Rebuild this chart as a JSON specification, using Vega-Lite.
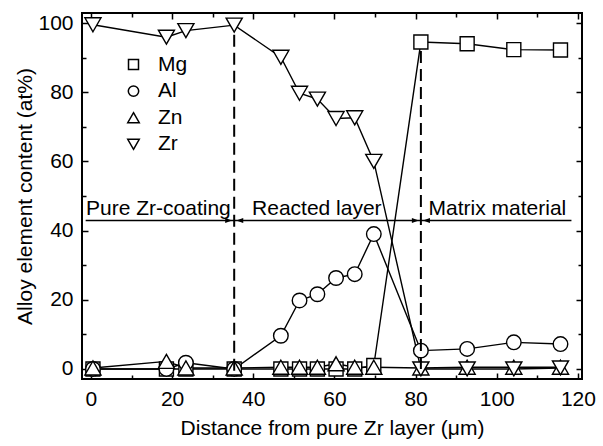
{
  "$schema": "https://vega.github.io/schema/vega-lite/v6.json",
  "width": 500,
  "height": 366,
  "autosize": {"type": "none"},
  "padding": {"left": 82, "top": 13, "right": 21, "bottom": 67},
  "background": "white",
  "config": {
    "font": "Liberation Sans",
    "view": {"stroke": "black", "strokeWidth": 2},
    "axis": {
      "grid": false,
      "domain": false,
      "tickColor": "black",
      "tickWidth": 1.5,
      "labelFont": "Liberation Sans",
      "labelFontSize": 21,
      "labelColor": "black",
      "titleFont": "Liberation Sans",
      "titleFontSize": 21,
      "titleFontWeight": "normal",
      "titleColor": "black"
    }
  },
  "datasets": {
    "profile": [
      {"element": "Mg", "x": 0.5, "y": 0},
      {"element": "Mg", "x": 18.6, "y": 0},
      {"element": "Mg", "x": 23.4, "y": 0},
      {"element": "Mg", "x": 35.3, "y": 0},
      {"element": "Mg", "x": 46.8, "y": 0},
      {"element": "Mg", "x": 51.4, "y": 0},
      {"element": "Mg", "x": 55.8, "y": 0},
      {"element": "Mg", "x": 60.4, "y": 0},
      {"element": "Mg", "x": 65.0, "y": 0},
      {"element": "Mg", "x": 69.7, "y": 1.0},
      {"element": "Mg", "x": 81.3, "y": 94.5},
      {"element": "Mg", "x": 92.7, "y": 94.0},
      {"element": "Mg", "x": 104.2, "y": 92.3},
      {"element": "Mg", "x": 115.7, "y": 92.2},
      {"element": "Al", "x": 0.5, "y": 0},
      {"element": "Al", "x": 18.6, "y": 0},
      {"element": "Al", "x": 23.4, "y": 1.8},
      {"element": "Al", "x": 35.3, "y": 0},
      {"element": "Al", "x": 46.8, "y": 9.6},
      {"element": "Al", "x": 51.4, "y": 19.8},
      {"element": "Al", "x": 55.8, "y": 21.6},
      {"element": "Al", "x": 60.4, "y": 26.3},
      {"element": "Al", "x": 65.0, "y": 27.4},
      {"element": "Al", "x": 69.7, "y": 39.0},
      {"element": "Al", "x": 81.3, "y": 5.3},
      {"element": "Al", "x": 92.7, "y": 5.8},
      {"element": "Al", "x": 104.2, "y": 7.7},
      {"element": "Al", "x": 115.7, "y": 7.2},
      {"element": "Zn", "x": 0.5, "y": 0.3},
      {"element": "Zn", "x": 18.6, "y": 2.2},
      {"element": "Zn", "x": 23.4, "y": 0.3},
      {"element": "Zn", "x": 35.3, "y": 0.3},
      {"element": "Zn", "x": 46.8, "y": 0.5},
      {"element": "Zn", "x": 51.4, "y": 0.5},
      {"element": "Zn", "x": 55.8, "y": 0.5},
      {"element": "Zn", "x": 60.4, "y": 1.5},
      {"element": "Zn", "x": 65.0, "y": 0.5},
      {"element": "Zn", "x": 69.7, "y": 0.5},
      {"element": "Zn", "x": 81.3, "y": 0.3},
      {"element": "Zn", "x": 92.7, "y": 0.5},
      {"element": "Zn", "x": 104.2, "y": 0.5},
      {"element": "Zn", "x": 115.7, "y": 0.5},
      {"element": "Zr", "x": 0.5, "y": 99.5},
      {"element": "Zr", "x": 18.6, "y": 95.9},
      {"element": "Zr", "x": 23.4, "y": 97.8},
      {"element": "Zr", "x": 35.3, "y": 99.4},
      {"element": "Zr", "x": 46.8, "y": 90.1},
      {"element": "Zr", "x": 51.4, "y": 79.7},
      {"element": "Zr", "x": 55.8, "y": 78.0},
      {"element": "Zr", "x": 60.4, "y": 72.4},
      {"element": "Zr", "x": 65.0, "y": 72.6},
      {"element": "Zr", "x": 69.7, "y": 60.0},
      {"element": "Zr", "x": 81.3, "y": 0},
      {"element": "Zr", "x": 92.7, "y": 0},
      {"element": "Zr", "x": 104.2, "y": 0},
      {"element": "Zr", "x": 115.7, "y": 0.3}
    ],
    "boundaries": [
      {"x": 35.3, "y0": -0.5, "y1": 97.5},
      {"x": 81.3, "y0": 0, "y1": 92.6}
    ],
    "guide": [{"x0": -1.3, "x1": 118.4, "y": 42.9}],
    "arrows": [
      {"x": 34.8, "y": 42.9, "dir": "right"},
      {"x": 35.8, "y": 42.9, "dir": "left"},
      {"x": 80.8, "y": 42.9, "dir": "right"},
      {"x": 81.8, "y": 42.9, "dir": "left"}
    ],
    "regions": [
      {"label": "Pure Zr-coating", "x": -1.2, "y": 44.5},
      {"label": "Reacted layer", "x": 39.7, "y": 44.5},
      {"label": "Matrix material", "x": 83.2, "y": 44.5}
    ]
  },
  "resolve": {"axis": {"x": "independent", "y": "independent"}},
  "layer": [
    {
      "data": {"name": "profile"},
      "mark": {"type": "line", "stroke": "black", "strokeWidth": 1.4},
      "encoding": {
        "x": {"field": "x", "type": "quantitative",
          "scale": {"domain": [-2.2, 121], "nice": false, "zero": false},
          "axis": {"orient": "bottom", "values": [0, 20, 40, 60, 80, 100, 120], "tickSize": -6, "labelPadding": 15, "title": "Distance from pure Zr layer (μm)", "titlePadding": 8}},
        "y": {"field": "y", "type": "quantitative",
          "scale": {"domain": [-2.9, 102.9], "nice": false, "zero": false},
          "axis": {"orient": "left", "values": [0, 20, 40, 60, 80, 100], "tickSize": -6, "labelPadding": 15, "title": "Alloy element content (at%)", "titlePadding": 2}},
        "detail": {"field": "element"}
      }
    },
    {
      "data": {"name": "profile"},
      "mark": {"type": "point", "filled": true, "fill": "white", "stroke": "black", "strokeWidth": 1.4, "size": 196, "opacity": 1},
      "encoding": {
        "x": {"field": "x", "type": "quantitative",
          "scale": {"domain": [-2.2, 121], "nice": false, "zero": false},
          "axis": {"orient": "top", "values": [0, 20, 40, 60, 80, 100, 120], "tickSize": -6, "labels": false, "title": null}},
        "y": {"field": "y", "type": "quantitative",
          "scale": {"domain": [-2.9, 102.9], "nice": false, "zero": false},
          "axis": {"orient": "right", "values": [0, 20, 40, 60, 80, 100], "tickSize": -6, "labels": false, "title": null}},
        "shape": {"field": "element", "type": "nominal",
          "scale": {"domain": ["Mg", "Al", "Zn", "Zr"],
            "range": ["M-1,-1H1V1H-1Z", "M-1.04,0A1.04,1.04,0,1,1,1.04,0A1.04,1.04,0,1,1,-1.04,0Z", "M0,-1L1.15,1L-1.15,1Z", "M0,1L1.15,-1L-1.15,-1Z"]},
          "legend": {
            "title": null,
            "orient": "top-left",
            "offset": 41,
            "labelFontSize": 21,
            "labelColor": "black",
            "labelOffset": 14,
            "rowPadding": 4.6,
            "encode": {
              "symbols": {
                "update": {
                  "shape": {"signal": "datum.value === 'Mg' ? 'M-6.2,0H-2.6M0.2,0H3.8M-2.6,-1.4H0.2V1.4H-2.6Z' : datum.value === 'Al' ? 'M-6.2,0H-2.66M0.26,0H3.8M-2.66,0A1.46,1.46,0,1,1,0.26,0A1.46,1.46,0,1,1,-2.66,0Z' : datum.value === 'Zn' ? 'M-6.2,0H-2.0M-0.4,0H3.8M-1.2,-1.4L0.41,1.4L-2.81,1.4Z' : 'M-6.2,0H-2.0M-0.4,0H3.8M-1.2,1.4L0.41,-1.4L-2.81,-1.4Z'"}
                }
              }
            }
          }
        }
      }
    },
    {
      "data": {"name": "boundaries"},
      "mark": {"type": "rule", "stroke": "black", "strokeWidth": 2, "strokeDash": [12, 6]},
      "encoding": {
        "x": {"field": "x", "type": "quantitative",
          "scale": {"domain": [-2.2, 121], "nice": false, "zero": false},
          "axis": {"orient": "bottom", "values": [10, 30, 50, 70, 90, 110], "tickSize": -4, "labels": false, "title": null}},
        "y": {"field": "y0", "type": "quantitative",
          "scale": {"domain": [-2.9, 102.9], "nice": false, "zero": false},
          "axis": {"orient": "left", "values": [10, 30, 50, 70, 90], "tickSize": -4, "labels": false, "title": null}},
        "y2": {"field": "y1"}
      }
    },
    {
      "data": {"name": "guide"},
      "mark": {"type": "rule", "stroke": "black", "strokeWidth": 1.4},
      "encoding": {
        "x": {"field": "x0", "type": "quantitative",
          "scale": {"domain": [-2.2, 121], "nice": false, "zero": false},
          "axis": {"orient": "top", "values": [10, 30, 50, 70, 90, 110], "tickSize": -4, "labels": false, "title": null}},
        "x2": {"field": "x1"},
        "y": {"field": "y", "type": "quantitative",
          "scale": {"domain": [-2.9, 102.9], "nice": false, "zero": false},
          "axis": {"orient": "right", "values": [10, 30, 50, 70, 90], "tickSize": -4, "labels": false, "title": null}}
      }
    },
    {
      "data": {"name": "arrows"},
      "transform": [{"filter": "datum.dir === 'right'"}],
      "mark": {"type": "point", "shape": "M0,0L-2,-0.7L-2,0.7Z", "filled": true, "color": "black", "size": 49, "opacity": 1},
      "encoding": {
        "x": {"field": "x", "type": "quantitative", "scale": {"domain": [-2.2, 121], "nice": false, "zero": false}, "axis": null},
        "y": {"field": "y", "type": "quantitative", "scale": {"domain": [-2.9, 102.9], "nice": false, "zero": false}, "axis": null}
      }
    },
    {
      "data": {"name": "arrows"},
      "transform": [{"filter": "datum.dir === 'left'"}],
      "mark": {"type": "point", "shape": "M0,0L2,-0.7L2,0.7Z", "filled": true, "color": "black", "size": 49, "opacity": 1},
      "encoding": {
        "x": {"field": "x", "type": "quantitative", "scale": {"domain": [-2.2, 121], "nice": false, "zero": false}, "axis": null},
        "y": {"field": "y", "type": "quantitative", "scale": {"domain": [-2.9, 102.9], "nice": false, "zero": false}, "axis": null}
      }
    },
    {
      "data": {"name": "regions"},
      "mark": {"type": "text", "align": "left", "baseline": "alphabetic", "font": "Liberation Sans", "fontSize": 21, "color": "black"},
      "encoding": {
        "x": {"field": "x", "type": "quantitative", "scale": {"domain": [-2.2, 121], "nice": false, "zero": false}, "axis": null},
        "y": {"field": "y", "type": "quantitative", "scale": {"domain": [-2.9, 102.9], "nice": false, "zero": false}, "axis": null},
        "text": {"field": "label"}
      }
    }
  ]
}
